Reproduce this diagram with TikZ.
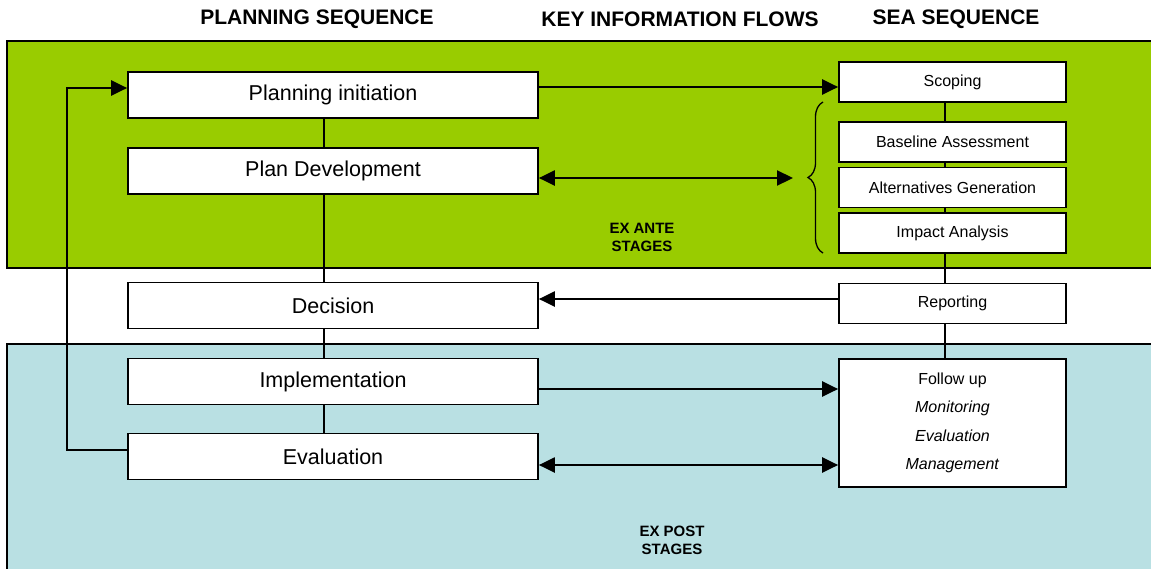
\documentclass[tikz,border=0pt]{standalone}
\usepackage{fontspec}
\setmainfont{Liberation Sans}
\usetikzlibrary{arrows.meta,decorations.pathreplacing}
\definecolor{antegreen}{RGB}{153,204,0}
\definecolor{postblue}{RGB}{185,224,227}
\begin{document}
\begin{tikzpicture}[x=1pt,y=-1pt]
\tikzset{plan/.style={draw,fill=white,line width=1.7pt,minimum width=410pt,minimum height=46pt,font=\fontsize{21.5}{25}\selectfont},
  sea/.style={draw,fill=white,line width=1.7pt,minimum width=227pt,minimum height=40pt,font=\fontsize{16}{19}\selectfont},
  head/.style={font=\bfseries\fontsize{21}{25}\selectfont},
  stage/.style={font=\bfseries\fontsize{15}{18}\selectfont,align=center},
  flow/.style={-{Triangle[length=16pt,width=15pt]},line width=2.2pt},
  both/.style={{Triangle[length=16pt,width=15pt]}-{Triangle[length=16pt,width=15pt]},line width=2.2pt},
  seq/.style={line width=2pt}};
  \useasboundingbox (0,0) rectangle (1151,568);
  \clip (0,0) rectangle (1151,568);
  % stage bands
  \draw[fill=antegreen,line width=1.7pt] (7,41) rectangle (1170,268);
  \draw[fill=postblue,line width=1.7pt] (7,344) rectangle (1170,590);

  \node[head] at (317,19) (H1) {PLANNING SEQUENCE};
  \node[head] at (680,19) (H2) {KEY INFORMATION FLOWS};
  \node[head] at (956,19) (H3) {SEA SEQUENCE};

  \node[stage] at (642,237) (ante) {EX ANTE\\STAGES};
  \node[stage] at (672,540) (post) {EX POST\\STAGES};

  % planning sequence
  \node[plan] at (333,95) (PI) {Planning initiation};
  \node[plan] at (333,171) (PD) {Plan Development};
  \node[plan] at (333,305.5) (Dec) {Decision};
  \node[plan] at (333,381.5) (Imp) {Implementation};
  \node[plan] at (333,456.5) (Eval) {Evaluation};
  \foreach \a/\b in {PI/PD,PD/Dec,Dec/Imp,Imp/Eval}
    \draw[seq] ([xshift=-9pt]\a.south) -- ([xshift=-9pt]\b.north);

  % sea sequence
  \node[sea] at (952.5,82) (Scop) {Scoping};
  \node[sea] at (952.5,142) (Base) {Baseline Assessment};
  \node[sea] at (952.5,187.5) (Alt) {Alternatives Generation};
  \node[sea] at (952.5,233) (ImpA) {Impact Analysis};
  \node[sea] at (952.5,303.5) (Rep) {Reporting};
  \node[sea,minimum height=128pt,align=center,font=\fontsize{16}{28.5}\selectfont] at (952.5,423) (Fol)
    {Follow up\\\textit{Monitoring}\\\textit{Evaluation}\\\textit{Management}};
  \foreach \a/\b in {Scop/Base,Base/Alt,Alt/ImpA,ImpA/Rep,Rep/Fol}
    \draw[seq] ([xshift=-7.5pt]\a.south) -- ([xshift=-7.5pt]\b.north);

  % information flows
  \draw[line width=1.3pt,decorate,decoration={brace,amplitude=15pt}] (823,253) -- (823,102);
  \coordinate (BT) at (793,178);
  \draw[flow] ([yshift=8pt]PI.east) -- ([yshift=-5pt]Scop.west);
  \draw[both] (PD.east |- BT) -- (BT);
  \draw[flow] ([yshift=4.5pt]Rep.west) -- ([yshift=6.5pt]Dec.east);
  \draw[flow] ([yshift=-7.5pt]Imp.east) -- ([yshift=34pt]Fol.west);
  \draw[both] ([yshift=-8.5pt]Eval.east) -- ([yshift=-42pt]Fol.west);
  \draw[flow] ([yshift=6.5pt]Eval.west) -- ++(-60,0) |- ([yshift=7pt]PI.west);
\end{tikzpicture}
\end{document}
